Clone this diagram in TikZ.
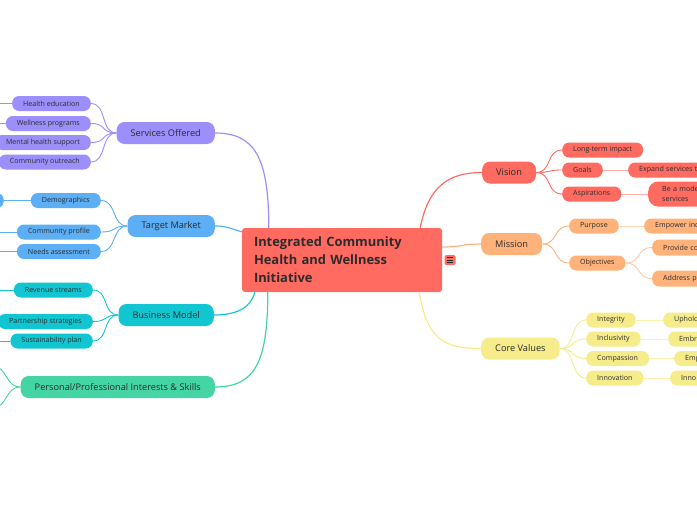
\documentclass[tikz,border=0pt]{standalone}
\usepackage{fontspec}
\setmainfont{Open Sans}
\usetikzlibrary{calc}
\definecolor{txt}{HTML}{2B2B2B}
\definecolor{redC}{HTML}{FF6B61}
\definecolor{orangeC}{HTML}{FFB27A}
\definecolor{yellowC}{HTML}{F6EC8B}
\definecolor{lavC}{HTML}{9C8FFB}
\definecolor{blueC}{HTML}{5CAEF5}
\definecolor{tealC}{HTML}{12C6D1}
\definecolor{greenC}{HTML}{45D5A5}

\begin{document}
\begin{tikzpicture}[x=1pt,y=-1pt,
  topic/.style={fill=#1,rounded corners=8pt,minimum height=22pt,inner xsep=14pt,inner ysep=0pt,text=txt,font=\fontsize{9.2}{11}\selectfont},
  leaf/.style={fill=#1,rounded corners=7pt,minimum height=15pt,inner xsep=11pt,inner ysep=0pt,text=txt,font=\fontsize{7.1}{8.5}\selectfont},
  edgeleaf/.style={leaf=#1,text width=90pt,align=left},
  link/.style={draw=#1,line width=1.2pt},
  sublink/.style={draw=#1,line width=0.9pt}]
\useasboundingbox (0,0) rectangle (697,520);
\clip (0,0) rectangle (697,520);
\coordinate (edge) at (-5,0);

\node[fill=redC,rounded corners=3pt,minimum width=200pt,minimum height=64pt,text width=176pt,inner xsep=12pt,align=left,text=txt,font=\fontsize{12.9}{18}\selectfont\bfseries] (root) at (342,260) {Integrated Community\\Health and Wellness\\Initiative};
\node[fill=redC,rounded corners=1.5pt,minimum width=11pt,minimum height=10pt,inner sep=0pt] (note) at (450,260) {};
\foreach \dy in {-2.2,0,2.2}
  \draw[txt,line width=0.7pt] ($(note.center)+(-3,\dy)$) -- ++(6,0);

\node[topic=lavC,anchor=east] (services) at (215,133) {Services Offered};
\node[topic=blueC,anchor=east] (market) at (215,226) {Target Market};
\node[topic=tealC,anchor=east] (business) at (214,315) {Business Model};
\node[topic=greenC,anchor=east] (personal) at (215,387) {Personal/Professional Interests \& Skills};
\node[topic=redC,anchor=west] (vision) at (482,172.5) {Vision};
\node[topic=orangeC,anchor=west] (mission) at (481,244) {Mission};
\node[topic=yellowC,anchor=west] (values) at (481,348.5) {Core Values};

\node[leaf=lavC,anchor=east] (education) at (91,103.5) {Health education};
\node[leaf=lavC,anchor=east] (wellness) at (91,123.5) {Wellness programs};
\node[leaf=lavC,anchor=east] (mental) at (91,142.5) {Mental health support};
\node[leaf=lavC,anchor=east] (outreach) at (91,162) {Community outreach};
\node[leaf=blueC,anchor=east] (demographics) at (101,200.5) {Demographics};
\node[leaf=blueC,anchor=east] (profile) at (101,232) {Community profile};
\node[leaf=blueC,anchor=east] (needs) at (101,251.5) {Needs assessment};
\node[leaf=blueC,anchor=east,minimum width=30pt] (demoleft) at (4,200.5) {};
\node[leaf=tealC,anchor=east] (revenue) at (93,290) {Revenue streams};
\node[leaf=tealC,anchor=east] (partnership) at (93,321.5) {Partnership strategies};
\node[leaf=tealC,anchor=east] (sustainability) at (93,341) {Sustainability plan};
\coordinate (personalup) at (-8,366);
\coordinate (personaldown) at (-8,408);

\node[leaf=redC,anchor=west] (impact) at (562,150) {Long-term impact};
\node[leaf=redC,anchor=west] (goals) at (562,170) {Goals};
\node[leaf=redC,anchor=west] (aspirations) at (562,194) {Aspirations};
\node[edgeleaf=redC,anchor=west] (expand) at (628,170) {Expand services t};
\node[edgeleaf=redC,anchor=west,minimum height=25pt,rounded corners=10pt,inner xsep=14pt,font=\fontsize{7.1}{10}\selectfont] (model) at (648,194) {Be a mode\\services};
\node[leaf=orangeC,anchor=west] (purpose) at (569,226) {Purpose};
\node[leaf=orangeC,anchor=west] (objectives) at (569,263) {Objectives};
\node[edgeleaf=orangeC,anchor=west] (empower) at (644,226) {Empower ind};
\node[edgeleaf=orangeC,anchor=west,minimum height=16pt] (provide) at (652,247.5) {Provide co};
\node[edgeleaf=orangeC,anchor=west,minimum height=16pt] (address) at (652,278.5) {Address p};
\node[leaf=yellowC,anchor=west] (integrity) at (586,320) {Integrity};
\node[leaf=yellowC,anchor=west] (inclusivity) at (586,339) {Inclusivity};
\node[leaf=yellowC,anchor=west] (compassion) at (586,358.5) {Compassion};
\node[leaf=yellowC,anchor=west] (innovation) at (586,378) {Innovation};
\node[edgeleaf=yellowC,anchor=west] (uphold) at (663,320) {Uphold};
\node[edgeleaf=yellowC,anchor=west] (embrace) at (668,339) {Embr};
\node[edgeleaf=yellowC,anchor=west] (empathy) at (674,358.5) {Emp};
\node[edgeleaf=yellowC,anchor=west] (innovate) at (670,378) {Inno};

\draw[link=lavC] ($(root.north west)+(27,0)$) .. controls +(0,-70) and +(40,0) .. (services.east);
\draw[link=blueC] ($(root.north west)+(0,4)$) .. controls +(-14,-4) and +(12,0) .. (market.east);
\draw[link=tealC] ($(root.south west)+(13,0)$) .. controls +(-4,16) and +(22,0) .. (business.east);
\draw[link=greenC] ($(root.south west)+(26,0)$) .. controls +(0,70) and +(40,0) .. (personal.east);
\draw[link=redC] ($(root.north east)+(-22,0)$) .. controls +(8,-40) and +(-35,0) .. (vision.west);
\draw[link=orangeC] ($(root.east)+(0,-13)$) .. controls +(20,0) and +(-20,0) .. (mission.west);
\draw[link=yellowC] ($(root.south east)+(-23,0)$) .. controls +(8,45) and +(-40,0) .. (values.west);

\foreach \leaf in {education,wellness,mental,outreach}
  \draw[sublink=lavC] (services.west) .. controls +(-16,0) and +(16,0) .. (\leaf.east);
\foreach \leaf in {demographics,profile,needs}
  \draw[sublink=blueC] (market.west) .. controls +(-16,0) and +(16,0) .. (\leaf.east);
\foreach \leaf in {revenue,partnership,sustainability}
  \draw[sublink=tealC] (business.west) .. controls +(-16,0) and +(16,0) .. (\leaf.east);
\foreach \leaf in {personalup,personaldown}
  \draw[sublink=greenC] (personal.west) .. controls +(-16,0) and +(16,0) .. (\leaf);
\foreach \leaf in {education,wellness}
  \draw[sublink=lavC] (\leaf.west) -- (\leaf.west -| edge);
\foreach \leaf in {profile,needs}
  \draw[sublink=blueC] (\leaf.west) -- (\leaf.west -| edge);
\foreach \leaf in {revenue,sustainability}
  \draw[sublink=tealC] (\leaf.west) -- (\leaf.west -| edge);
\draw[sublink=blueC] (demographics.west) -- (demoleft.east);

\foreach \leaf in {impact,goals,aspirations}
  \draw[sublink=redC] (vision.east) .. controls +(16,0) and +(-16,0) .. (\leaf.west);
\foreach \leaf in {purpose,objectives}
  \draw[sublink=orangeC] (mission.east) .. controls +(16,0) and +(-16,0) .. (\leaf.west);
\foreach \leaf in {provide,address}
  \draw[sublink=orangeC!70] (objectives.east) .. controls +(16,0) and +(-16,0) .. (\leaf.west);
\foreach \leaf in {integrity,inclusivity,compassion,innovation}
  \draw[sublink=yellowC] (values.east) .. controls +(16,0) and +(-16,0) .. (\leaf.west);
\draw[sublink=redC!55] (goals.east) -- (expand.west);
\draw[sublink=redC!55] (aspirations.east) -- (model.west);
\draw[sublink=orangeC!55] (purpose.east) -- (empower.west);
\draw[sublink=yellowC!70] (integrity.east) -- (uphold.west);
\draw[sublink=yellowC!70] (inclusivity.east) -- (embrace.west);
\draw[sublink=yellowC!70] (compassion.east) -- (empathy.west);
\draw[sublink=yellowC!70] (innovation.east) -- (innovate.west);
\end{tikzpicture}
\end{document}
